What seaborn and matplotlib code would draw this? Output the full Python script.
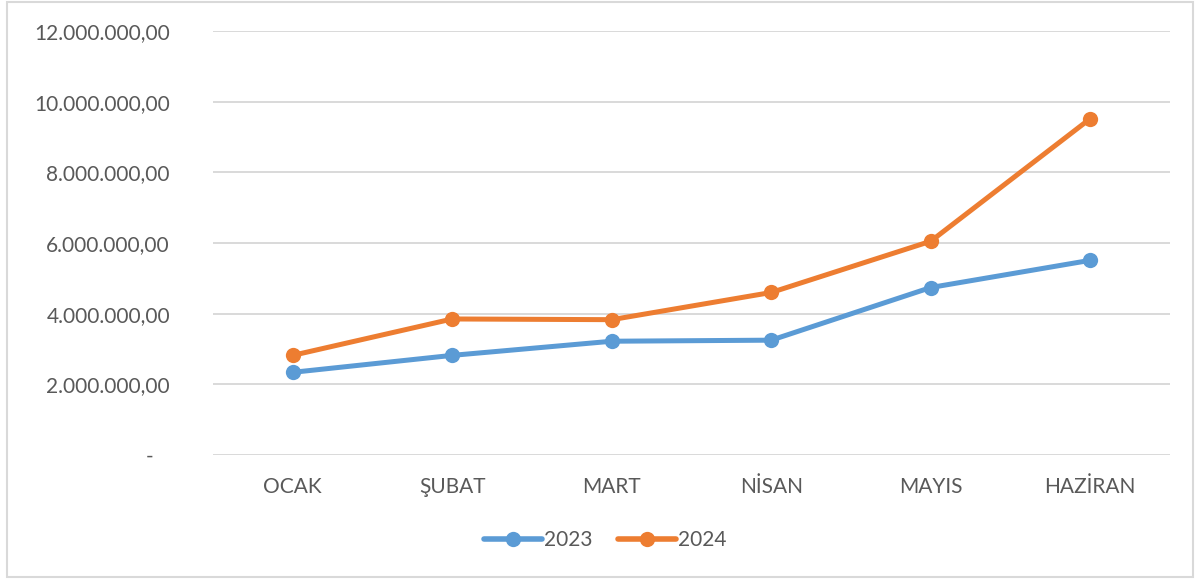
import matplotlib
matplotlib.use("Agg")
import matplotlib.pyplot as plt
from matplotlib.patches import Rectangle
from matplotlib.ticker import FuncFormatter, MultipleLocator
import seaborn as sns
import pandas as pd

# data
months = ["OCAK", "ŞUBAT", "MART", "NİSAN", "MAYIS", "HAZİRAN"]
values_2023 = [2340000, 2820000, 3220000, 3250000, 4740000, 5510000]
values_2024 = [2820000, 3850000, 3830000, 4600000, 6050000, 9520000]
years = ["2023", "2024"]

BLUE = "#5B9BD5"
ORANGE = "#ED7D31"
TEXT = "#595959"
GRID = "#D9D9D9"

df = pd.DataFrame({
    "month": months * 2,
    "value": values_2023 + values_2024,
    "year": [years[0]] * len(months) + [years[1]] * len(months),
})

sns.set_style("white")
plt.rcParams["font.family"] = ["Lato", "DejaVu Sans"]

fig = plt.figure(figsize=(11.99, 5.79), dpi=100)
ax = fig.add_axes([213 / 1199, 1 - 455 / 579, (1170 - 213) / 1199, (455 - 31) / 579])

sns.lineplot(data=df, x="month", y="value", hue="year", palette=[BLUE, ORANGE],
             marker="o", markersize=11, markeredgewidth=0, linewidth=3.6,
             sort=False, ax=ax)

def tr_fmt(v, pos):
    if abs(v) < 1:
        return "-   "
    s = f"{v:,.2f}"
    return s.replace(",", "X").replace(".", ",").replace("X", ".")

ax.set_ylim(0, 12000000)
ax.set_xlim(-0.5, len(months) - 0.5)
ax.yaxis.set_major_locator(MultipleLocator(2000000))
ax.yaxis.set_major_formatter(FuncFormatter(tr_fmt))
ax.grid(axis="y", color=GRID, linewidth=1.4)
ax.set_axisbelow(True)
for sp in ax.spines.values():
    sp.set_visible(False)
ax.tick_params(axis="y", length=0, pad=31, labelsize=15, labelcolor=TEXT)
ax.tick_params(axis="x", length=0, pad=16, labelsize=15, labelcolor=TEXT)
ax.set_xlabel("")
ax.set_ylabel("")

leg = ax.legend(loc="center", bbox_to_anchor=(605 / 1199, 1 - 540 / 579),
                bbox_transform=fig.transFigure, ncol=2, frameon=False,
                fontsize=15, handlelength=2.8, handletextpad=0.1, columnspacing=1.2)
for t in leg.get_texts():
    t.set_color(TEXT)
for h in leg.legend_handles:
    h.set_linewidth(4)
    h.set_solid_capstyle("round")

# light frame around the whole chart
fig.patches.append(Rectangle((7, 2), 1186, 575, transform=None, fill=False,
                             edgecolor=GRID, linewidth=1.5))

fig.savefig("out.png", dpi=100)
